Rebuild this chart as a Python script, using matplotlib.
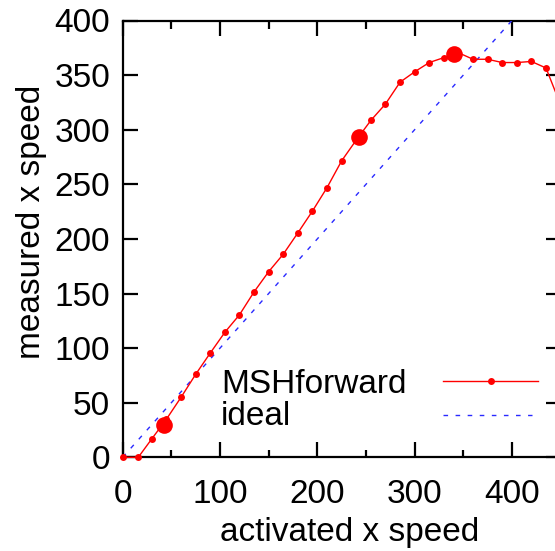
import matplotlib
matplotlib.use("Agg")
import matplotlib.pyplot as plt
from matplotlib.ticker import MultipleLocator

plt.rcParams['font.family'] = ['Liberation Sans', 'DejaVu Sans']

# MSHforward measurement: activated vs measured x speed
activated = [0, 16, 30, 45, 60, 75, 90, 105, 120, 135, 150, 165, 180, 195, 210,
             225, 240, 255, 270, 285, 300, 315, 330, 345, 360, 375, 390, 405,
             420, 435, 449]
measured = [0, 0, 17, 35, 55, 76, 95.5, 114.5, 130.5, 151.5, 170, 186, 205.5,
            225.5, 247, 271.5, 290.5, 308.5, 323.5, 343.5, 353, 361.5, 366,
            370.5, 364.5, 364.5, 361.5, 361.5, 362.5, 356.5, 325]

# highlighted samples along the curve
key_x = [42, 243, 340]
key_y = [30, 293, 369.5]

# ideal response y = x
ideal_x = [0, 400]
ideal_y = [0, 400]

x_limits = (0, 450)
y_limits = (0, 400)

RED = '#ff0000'
BLUE = '#2a2aff'
FS = 24

W, H = 555, 551
fig = plt.figure(figsize=(W / 100, H / 100), dpi=100)
# plot frame in pixels: left 122.7, right 560.6, top 20.5, bottom 457.3
left, right, top, bottom = 122.7, 560.6, 20.5, 457.3
ax = fig.add_axes([left / W, (H - bottom) / H, (right - left) / W, (bottom - top) / H])

ax.plot(ideal_x, ideal_y, color=BLUE, lw=1.0, ls=(0, (3.3, 5.4)), zorder=3)
ax.plot(activated, measured, color=RED, lw=1.0, marker='o', markersize=5,
        markeredgewidth=0, clip_on=False, zorder=4)
ax.plot(key_x, key_y, ls='none', marker='o', markersize=12, color=RED,
        markeredgewidth=0, clip_on=False, zorder=5)

ax.set_xlim(*x_limits)
ax.set_ylim(*y_limits)
ax.xaxis.set_major_locator(MultipleLocator(100))
ax.xaxis.set_minor_locator(MultipleLocator(50))
ax.yaxis.set_major_locator(MultipleLocator(50))

for s in ax.spines.values():
    s.set_linewidth(1.6)
    s.set_zorder(2)

ax.tick_params(axis='both', which='major', direction='in', length=10.8, width=1.6,
               top=True, right=True, labelsize=FS, color='black')
ax.tick_params(axis='x', which='major', pad=15.5)
ax.tick_params(axis='y', which='major', pad=9)
ax.tick_params(axis='x', which='minor', direction='in', length=5.4, width=1.6,
               top=True, bottom=True)
ax.tick_params(axis='y', which='minor', left=False, right=False)

ax.set_xlabel('activated x speed', fontsize=FS, va='baseline')
ax.xaxis.set_label_coords((349.5 - left) / (right - left), -(540.5 - bottom) / (bottom - top))
ax.set_ylabel('measured x speed', fontsize=FS, va='center', ha='center')
ax.yaxis.set_label_coords((32 - left) / (right - left), (bottom - 222) / (bottom - top))

# key, drawn with left-justified labels and samples on the right
key_labels = ['MSHforward', 'ideal']
tx = (221 - left) / (right - left)
ax.text(tx, (bottom - 392.7) / (bottom - top), key_labels[0], transform=ax.transAxes,
        fontsize=FS, va='baseline', ha='left')
ax.text(tx, (bottom - 425) / (bottom - top), key_labels[1], transform=ax.transAxes,
        fontsize=FS, va='baseline', ha='left')
sx0 = (443.3 - left) / (right - left)
sx1 = (538.3 - left) / (right - left)
sx1b = (531.7 - left) / (right - left)
sy0 = (bottom - 381) / (bottom - top)
sy1 = (bottom - 415) / (bottom - top)
ax.plot([sx0, sx1], [sy0, sy0], transform=ax.transAxes, color=RED, lw=1.0, zorder=4)
ax.plot([(sx0 + sx1) / 2], [sy0], transform=ax.transAxes, color=RED, marker='o',
        markersize=5, markeredgewidth=0, zorder=4)
ax.plot([sx0, sx1b], [sy1, sy1], transform=ax.transAxes, color=BLUE, lw=1.0,
        ls=(0, (3.3, 5.4)), zorder=4)

fig.savefig('out.png', dpi=100)
